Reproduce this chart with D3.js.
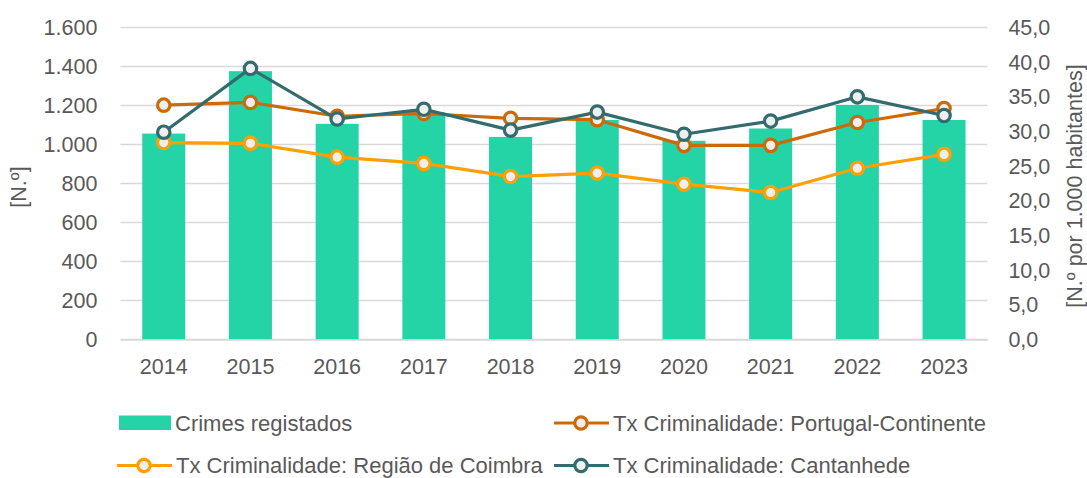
<!DOCTYPE html>
<html>
<head>
<meta charset="utf-8">
<script src="https://cdn.jsdelivr.net/npm/d3@7"></script>
<style>
  html, body { margin: 0; padding: 0; background: #ffffff; }
  svg { display: block; }
  text { font-family: "Liberation Sans", Arial, sans-serif; fill: #595959; }
</style>
</head>
<body>
<svg id="chart" width="1087" height="478"></svg>
<script>
// Anos
const years = ["2014", "2015", "2016", "2017", "2018", "2019", "2020", "2021", "2022", "2023"];
// Crimes registados (N.º)
const crimes = [1056, 1376, 1106, 1165, 1039, 1126, 1019, 1082, 1203, 1126];
// Taxas de criminalidade (N.º por 1.000 habitantes)
const txPortugal = [33.8, 34.2, 32.2, 32.6, 31.9, 31.7, 28.0, 28.0, 31.3, 33.3];
const txCoimbra = [28.4, 28.3, 26.3, 25.4, 23.5, 24.0, 22.4, 21.2, 24.7, 26.7];
const txCantanhede = [29.9, 39.1, 31.8, 33.2, 30.2, 32.8, 29.6, 31.5, 35.0, 32.3];
// Marcas dos eixos
const leftTicks = [0, 200, 400, 600, 800, 1000, 1200, 1400, 1600];
const rightTicks = [0, 5, 10, 15, 20, 25, 30, 35, 40, 45];

const svg = d3.select("#chart");
const FS = 21.5;
const FS_LEG = 22;

const x = d3.scaleBand().domain(years).range([120.4, 987.4])
  .paddingInner(0.504).paddingOuter(0.252);
const yL = d3.scaleLinear().domain([0, 1600]).range([339.5, 27.5]);
const yR = d3.scaleLinear().domain([0, 45]).range([339.5, 27.5]);

const ptFmt = d3.formatLocale({ decimal: ",", thousands: ".", grouping: [3], currency: ["", "€"] });
const fmtL = ptFmt.format(",.0f");
const fmtR = ptFmt.format(".1f");

// Linhas de grelha
svg.append("g").selectAll("line").data(leftTicks).join("line")
  .attr("x1", 120.4).attr("x2", 987.4)
  .attr("y1", d => yL(d)).attr("y2", d => yL(d))
  .attr("stroke", "#d9d9d9").attr("stroke-width", 1.3);

// Eixo esquerdo
const axL = svg.append("g").attr("transform", "translate(120.4,0)")
  .call(d3.axisLeft(yL).tickValues(leftTicks).tickFormat(fmtL).tickSize(0).tickPadding(23));
axL.select(".domain").remove();
axL.selectAll("text").attr("font-size", FS).attr("fill", "#595959")
  .attr("font-family", "Liberation Sans, Arial, sans-serif");

// Eixo direito
const axR = svg.append("g").attr("transform", "translate(987.4,0)")
  .call(d3.axisRight(yR).tickValues(rightTicks).tickFormat(fmtR).tickSize(0).tickPadding(21));
axR.select(".domain").remove();
axR.selectAll("text").attr("font-size", FS).attr("fill", "#595959")
  .attr("font-family", "Liberation Sans, Arial, sans-serif");

// Barras
svg.append("g").selectAll("rect").data(years).join("rect")
  .attr("x", d => x(d)).attr("width", x.bandwidth())
  .attr("y", (d, i) => yL(crimes[i]))
  .attr("height", (d, i) => yL(0) - yL(crimes[i]))
  .attr("fill", "#24D4A7");

// Eixo horizontal
const axB = svg.append("g").attr("transform", "translate(0,339.5)")
  .call(d3.axisBottom(x).tickSize(0).tickPadding(19));
axB.select(".domain").attr("stroke", "#d9d9d9").attr("stroke-width", 1.3);
axB.selectAll("text").attr("font-size", FS).attr("fill", "#595959")
  .attr("font-family", "Liberation Sans, Arial, sans-serif");

// Séries de linhas
const series = [
  { name: "Tx Criminalidade: Portugal-Continente", values: txPortugal, color: "#CC6A0A" },
  { name: "Tx Criminalidade: Região de Coimbra", values: txCoimbra, color: "#FF9F00" },
  { name: "Tx Criminalidade: Cantanhede", values: txCantanhede, color: "#336B6E" }
];
const cx = d => x(d) + x.bandwidth() / 2;
const line = d3.line().x(d => cx(d.year)).y(d => yR(d.v));

series.forEach(s => {
  const pts = years.map((y, i) => ({ year: y, v: s.values[i] }));
  const g = svg.append("g");
  g.append("path").datum(pts).attr("d", line)
    .attr("fill", "none").attr("stroke", s.color).attr("stroke-width", 3.2)
    .attr("stroke-linejoin", "round");
  g.selectAll("circle").data(pts).join("circle")
    .attr("cx", d => cx(d.year)).attr("cy", d => yR(d.v)).attr("r", 6.2)
    .attr("fill", "#EFEFEF").attr("stroke", s.color).attr("stroke-width", 3.2);
});

// Títulos dos eixos
svg.append("text").attr("transform", "translate(26,187) rotate(-90)")
  .attr("text-anchor", "middle").attr("font-size", FS).text("[N.º]");
svg.append("text").attr("transform", "translate(1082,186) rotate(-90)")
  .attr("text-anchor", "middle").attr("font-size", FS).text("[N.º por 1.000 habitantes]");

// Legenda
const leg = svg.append("g");
leg.append("rect").attr("x", 119).attr("y", 415.5).attr("width", 52).attr("height", 14.5)
  .attr("fill", "#24D4A7");
leg.append("text").attr("x", 175).attr("y", 430.5).attr("font-size", FS_LEG).text("Crimes registados");

const legItems = [
  { s: series[0], x: 554, y: 423 },
  { s: series[1], x: 117, y: 465.5 },
  { s: series[2], x: 554, y: 465.5 }
];
legItems.forEach(it => {
  leg.append("line").attr("x1", it.x).attr("x2", it.x + 55)
    .attr("y1", it.y).attr("y2", it.y)
    .attr("stroke", it.s.color).attr("stroke-width", 3.2);
  leg.append("circle").attr("cx", it.x + 27).attr("cy", it.y).attr("r", 6.2)
    .attr("fill", "#EFEFEF").attr("stroke", it.s.color).attr("stroke-width", 3.2);
  leg.append("text").attr("x", it.x + 59).attr("y", it.y + 7.5)
    .attr("font-size", FS_LEG).text(it.s.name);
});
</script>
</body>
</html>
